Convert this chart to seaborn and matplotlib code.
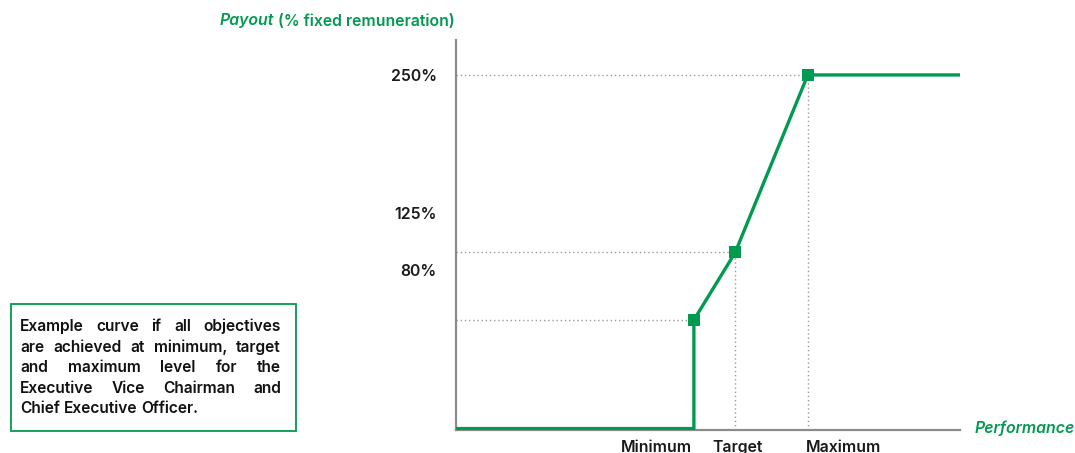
import matplotlib
matplotlib.use("Agg")
import matplotlib.pyplot as plt
import seaborn as sns
import pandas as pd
from matplotlib.patches import Rectangle

# payout curve (x = performance, arbitrary 0-100 scale; y = % fixed remuneration)
perf = [0, 47.2, 47.2, 55.4, 69.8, 100]
payout = [1, 1, 77.5, 125, 250, 250]

# key points: minimum, target, maximum
key_perf = [47.2, 55.4, 69.8]
key_payout = [77.5, 125, 250]

# tick labels (placed where they sit in the original)
y_tick_pos = [250, 153, 113]
y_tick_labels = ["250%", "125%", "80%"]
x_tick_pos = [39.7, 55.8, 76.8]
x_tick_labels = ["Minimum", "Target", "Maximum"]

note_lines = ["Example curve if all objectives",
              "are achieved at minimum, target",
              "and maximum level for the",
              "Executive Vice Chairman and",
              "Chief Executive Officer."]

green = "#009A50"
grey = "#8c8c8c"
W, H = 1075, 453
fs = 11.4

sns.set_theme(style="white")
plt.rcParams["font.family"] = ["Inter", "DejaVu Sans"]

fig = plt.figure(figsize=(W / 100, H / 100), dpi=100)
ax = fig.add_axes([456 / W, 1 - 430 / H, (960 - 456) / W, (430 - 40) / H])

curve = pd.DataFrame({"perf": perf, "payout": payout})
pts = pd.DataFrame({"perf": key_perf, "payout": key_payout})

# dotted guide lines
for xp, yp in zip(key_perf, key_payout):
    ax.plot([0, xp], [yp, yp], color="#9a9a9a", lw=1, ls=(0, (1, 2)), zorder=1)
for xp, yp in zip(key_perf[1:], key_payout[1:]):
    ax.plot([xp, xp], [0, yp], color="#9a9a9a", lw=1, ls=(0, (1, 2)), zorder=1)

sns.lineplot(data=curve, x="perf", y="payout", estimator=None, sort=False,
             color=green, lw=2.4, ax=ax, zorder=3)
sns.scatterplot(data=pts, x="perf", y="payout", marker="s", s=85,
                color=green, edgecolor=green, linewidth=0, ax=ax, zorder=4)

ax.set_xlim(0, 100)
ax.set_ylim(0, 274.6)
ax.set_xlabel("")
ax.set_ylabel("")
for s in ["top", "right"]:
    ax.spines[s].set_visible(False)
for s in ["left", "bottom"]:
    ax.spines[s].set_color(grey)
    ax.spines[s].set_linewidth(1.6)

ax.set_yticks(y_tick_pos)
ax.set_yticklabels(y_tick_labels, fontsize=fs, fontweight="semibold", color="#1a1a1a")
ax.set_xticks(x_tick_pos)
ax.set_xticklabels(x_tick_labels, fontsize=fs, fontweight="semibold", color="#1a1a1a")
ax.tick_params(axis="y", length=0, pad=14)
ax.tick_params(axis="x", length=0, pad=7)

renderer = fig.canvas.get_renderer()

# y axis title: "Payout" italic + rest normal
t2 = fig.text(455 / W, 1 - 21 / H, " (% fixed remuneration)", ha="right", va="center",
              color=green, fontsize=fs, fontweight="semibold")
ext = t2.get_window_extent(renderer)
fig.text(ext.x0 / W, 1 - 21 / H, "Payout", ha="right", va="center", color=green,
         fontsize=fs, fontweight="semibold", style="italic")

fig.text(975 / W, 1 - 428 / H, "Performance", ha="left", va="center", color=green,
         fontsize=fs, fontweight="semibold", style="italic")

# note box with justified text
fig.patches.append(Rectangle((11 / W, 1 - 431 / H), 285 / W, 127 / H,
                             transform=fig.transFigure, fill=False,
                             edgecolor=green, lw=1.3))
left, right = 20, 281
for i, line in enumerate(note_lines):
    yb = 1 - (331 + i * 20.6) / H
    words = line.split()
    texts = [fig.text(0, yb, w, ha="left", va="baseline", fontsize=11.2,
                      fontweight="semibold", color="#111111") for w in words]
    widths = [t.get_window_extent(renderer).width for t in texts]
    if i < len(note_lines) - 1 and len(words) > 1:
        gap = (right - left - sum(widths)) / (len(words) - 1)
    else:
        gap = 4.0
    x = left
    for t, w in zip(texts, widths):
        t.set_x(x / W)
        x += w + gap

fig.savefig("out.png", dpi=100)
